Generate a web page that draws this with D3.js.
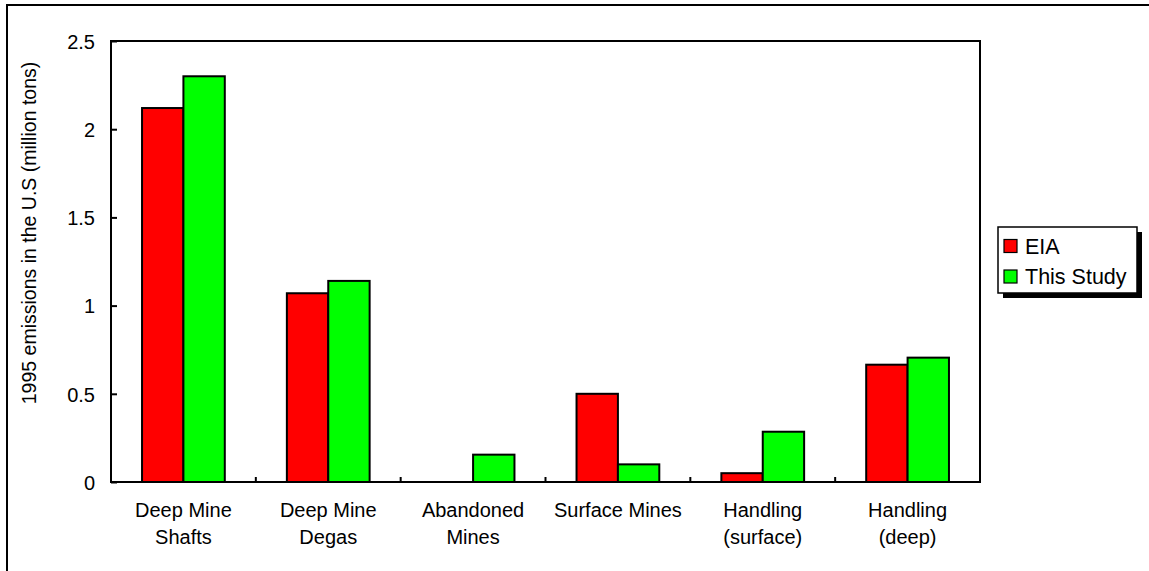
<!DOCTYPE html>
<html>
<head>
<meta charset="utf-8">
<script src="https://cdn.jsdelivr.net/npm/d3@7"></script>
<style>
  html, body { margin: 0; padding: 0; background: #fff; }
  svg { display: block; font-family: "Liberation Sans", Arial, sans-serif; }
</style>
</head>
<body>
<svg id="chart" width="1149" height="571"></svg>
<script>
// Coal-mine methane emission sources, 1995 (million tons)
const categories = [
  ["Deep Mine", "Shafts"],
  ["Deep Mine", "Degas"],
  ["Abandoned", "Mines"],
  ["Surface Mines"],
  ["Handling", "(surface)"],
  ["Handling", "(deep)"]
];
const seriesNames = ["EIA", "This Study"];
const eiaValues = [2.12, 1.07, 0, 0.5, 0.05, 0.665];
const studyValues = [2.30, 1.14, 0.155, 0.10, 0.285, 0.705];
const yTicks = [0, 0.5, 1, 1.5, 2, 2.5];
const seriesColors = ["#ff0000", "#00ff00"];

const svg = d3.select("#chart");
const plot = { left: 111, top: 41, right: 980, bottom: 482 };

// outer chart frame
svg.append("rect")
  .attr("x", 7).attr("y", 5).attr("width", 1200).attr("height", 700)
  .attr("fill", "none").attr("stroke", "#000").attr("stroke-width", 2);

const x0 = d3.scaleBand()
  .domain(d3.range(categories.length))
  .range([plot.left, plot.right])
  .paddingInner(0).paddingOuter(0);

const bw = x0.bandwidth() / 3.5; // gap width 150% of a bar
const y = d3.scaleLinear().domain([0, 2.5]).range([plot.bottom, plot.top]);

const rows = categories.map((c, i) => ({ i, vals: [eiaValues[i], studyValues[i]] }));

const groups = svg.append("g").selectAll("g").data(rows).join("g");
groups.selectAll("rect")
  .data(d => d.vals.map((v, s) => ({ i: d.i, s, v })))
  .join("rect")
  .filter(d => d.v > 0)
  .attr("x", d => x0(d.i) + x0.bandwidth() / 2 - bw + d.s * bw)
  .attr("y", d => y(d.v))
  .attr("width", bw)
  .attr("height", d => y(0) - y(d.v))
  .attr("fill", d => seriesColors[d.s])
  .attr("stroke", "#000")
  .attr("stroke-width", 2);

// plot frame
svg.append("rect")
  .attr("x", plot.left).attr("y", plot.top)
  .attr("width", plot.right - plot.left).attr("height", plot.bottom - plot.top)
  .attr("fill", "none").attr("stroke", "#000").attr("stroke-width", 2);

// y axis: ticks point inward
const yAxis = d3.axisRight(y).tickValues(yTicks).tickSize(6).tickFormat(d3.format("~g"));
const yg = svg.append("g").attr("transform", `translate(${plot.left},0)`).call(yAxis);
yg.select(".domain").remove();
yg.selectAll(".tick line").attr("stroke", "#000").attr("stroke-width", 2);
yg.selectAll(".tick text")
  .attr("x", -16).attr("dy", "0.36em").attr("text-anchor", "end")
  .attr("font-size", 20).attr("fill", "#000")
  .attr("font-family", "Liberation Sans, Arial, sans-serif");

// x axis: tick marks at category boundaries, pointing up
const bounds = d3.range(1, categories.length).map(i => x0(i));
svg.append("g").selectAll("line").data(bounds).join("line")
  .attr("x1", d => d).attr("x2", d => d)
  .attr("y1", plot.bottom).attr("y2", plot.bottom - 5)
  .attr("stroke", "#000").attr("stroke-width", 2);

const xl = svg.append("g").selectAll("text").data(categories).join("text")
  .attr("x", (d, i) => x0(i) + x0.bandwidth() / 2)
  .attr("y", 517)
  .attr("text-anchor", "middle")
  .attr("font-size", 20).attr("fill", "#000");
xl.selectAll("tspan").data(d => d).join("tspan")
  .attr("x", function () { return d3.select(this.parentNode).attr("x"); })
  .attr("dy", (d, j) => j === 0 ? 0 : 27)
  .text(d => d);

// y axis title
svg.append("text")
  .attr("transform", "translate(36,233) rotate(-90)")
  .attr("text-anchor", "middle")
  .attr("font-size", 19.5).attr("fill", "#000")
  .text("1995 emissions in the U.S (million tons)");

// legend with drop shadow
const lg = svg.append("g").attr("transform", "translate(998,227)");
lg.append("rect").attr("x", 5).attr("y", 5).attr("width", 139).attr("height", 66).attr("fill", "#000");
lg.append("rect").attr("x", 0).attr("y", 0).attr("width", 139).attr("height", 66)
  .attr("fill", "#fff").attr("stroke", "#000").attr("stroke-width", 1.5);
seriesNames.forEach((name, s) => {
  const cy = 19 + s * 30.5;
  lg.append("rect").attr("x", 6).attr("y", cy - 6.5).attr("width", 13).attr("height", 13)
    .attr("fill", seriesColors[s]).attr("stroke", "#000").attr("stroke-width", 1.2);
  lg.append("text").attr("x", 27).attr("y", cy + 7.5)
    .attr("font-size", 21.5).attr("fill", "#000").text(name);
});
</script>
</body>
</html>
